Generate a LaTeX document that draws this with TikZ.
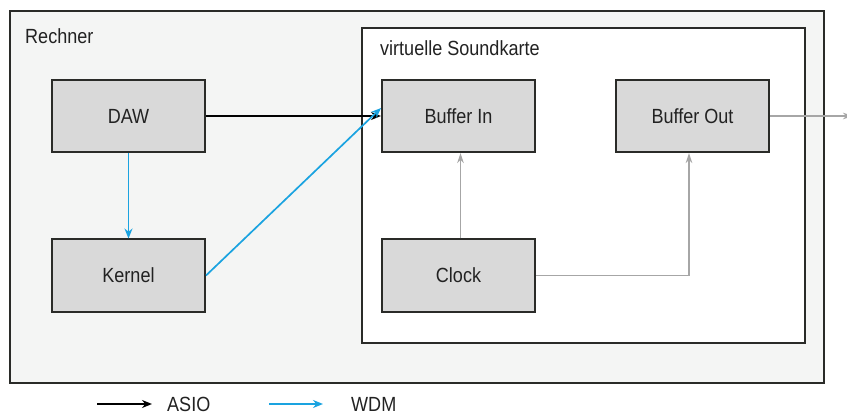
\documentclass[tikz,border=0pt]{standalone}
\usepackage{fontspec}
\setmainfont[FakeStretch=0.88]{Liberation Sans}
\usetikzlibrary{arrows.meta}
\definecolor{outerfill}{HTML}{F4F5F4}
\definecolor{boxfill}{HTML}{D9D9D9}
\definecolor{edge}{HTML}{2A2B28}
\definecolor{wdmblue}{HTML}{1AA3E0}
\definecolor{clockgray}{HTML}{A6A6A6}
\definecolor{txt}{HTML}{222222}
\begin{document}
\begin{tikzpicture}[x=1pt,y=-1pt,
  font=\fontsize{20.5}{22}\selectfont, text=txt,
  block/.style={draw=edge, line width=2pt, fill=boxfill, minimum width=153pt, minimum height=72pt, inner sep=0pt},
  lbl/.style={anchor=base west, inner sep=0pt},
  asio/.style={draw=black, line width=1.7pt, -{Stealth[length=10pt,width=8pt]}},
  wdm/.style={draw=wdmblue, line width=1.7pt, -{Stealth[length=10pt,width=8pt]}},
  clk/.style={draw=clockgray, line width=1.7pt, -{Stealth[length=10pt,width=6.5pt]}}]
\useasboundingbox (0,0) rectangle (847,417);
\fill[white] (0,0) rectangle (847,417);
% outer and inner frames
\draw[draw=edge, line width=2.2pt, fill=outerfill] (10,11) rectangle (824,383);
\draw[draw=edge, line width=2pt, fill=white] (362,28) rectangle (805,343);
\node[lbl] (rechner) at (25,44) {Rechner};
\node[lbl] (vsk) at (380,56) {virtuelle Soundkarte};
% blocks
\node[block] (daw) at (128.5,116) {DAW};
\node[block] (kernel) at (128.5,275.5) {Kernel};
\node[block] (bin) at (458.5,116) {Buffer In};
\node[block] (bout) at (692.5,116) {Buffer Out};
\node[block] (clock) at (458.5,275.5) {Clock};
\coordinate (outend) at (853,116);
% connectors
\draw[asio] (daw.east) -- (bin.west);
\draw[wdm] (daw.south) -- (kernel.north);
\draw[wdm] (kernel.east) -- ([yshift=8pt]bin.west);
\draw[clk] ([xshift=2pt]clock.north) -- ([xshift=2pt]bin.south);
\draw[clk] (clock.east) -| ([xshift=-3.5pt]bout.south);
\draw[clk] (bout.east) -- (outend);
% legend
\coordinate (a1) at (97,404);
\coordinate (a2) at (152,404);
\coordinate (w1) at (269,404);
\coordinate (w2) at (323,404);
\draw[asio] (a1) -- (a2);
\draw[wdm] (w1) -- (w2);
\node[lbl] (asiotxt) at (167,411) {ASIO};
\node[lbl] (wdmtxt) at (351,411) {WDM};
\end{tikzpicture}
\end{document}
